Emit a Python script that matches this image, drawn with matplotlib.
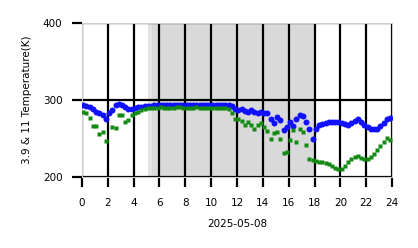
import numpy as np
import matplotlib
matplotlib.use('Agg')
import matplotlib.pyplot as plt

plt.rcParams['font.family'] = 'DejaVu Sans'

# —— 数据（小时, K）——
hours = np.arange(0.1, 24.0, 0.25)   # 15 分钟采样

t39 = [293, 292, 291, 288, 285, 283, 281, 276, 283, 287,
       294, 295, 293, 291, 289, 288, 290, 291, 291, 292,
       292, 292, 293, 293, 293, 293, 293, 293, 293, 293,
       293, 293, 293, 293, 293, 293, 293, 293, 293, 293,
       293, 293, 293, 293, 293, 293, 292, 289, 287, 289,
       286, 285, 287, 284, 283, 285, 283, 283, 275, 270,
       278, 274, 261, 265, 272, 266, 276, 281, 279, 271,
       262, 250, 262, 267, 269, 270, 271, 272, 272, 271,
       270, 269, 268, 270, 273, 275, 271, 268, 265, 263,
       262, 263, 266, 270, 275, 277]

t11 = [284, 283, 277, 266, 266, 256, 258, 247, np.nan, 265,
       264, 281, 280, 272, 274, 280, 283, 285, 287, 289,
       290, 290, 290, 290, 291, 290, 290, 290, 290, 291,
       291, 290, 290, 290, 290, 291, 290, 290, 290, 290,
       290, 290, 290, 290, 290, 289, 283, 276, 275, 273,
       268, 272, 268, 262, 268, 270, 265, 260, 249, 257,
       259, 249, 231, 232, 248, 261, 245, 263, 259, 242,
       224, 222, 221, 220, 219, 218, 217, 215, 212, 210,
       210, 214, 220, 224, 226, 228, 225, 224, 224, 226,
       230, 235, 240, 245, 251, 248]

day_start, day_end = 5.1, 18.0   # 白天阴影

fig = plt.figure(figsize=(4.18, 2.48), dpi=100)
ax = fig.add_axes([0.196, 0.286, 0.742, 0.621])

ax.axvspan(day_start, day_end, color='#e3e3e3', lw=0, zorder=0)
ax.axvspan(day_start + 0.35, day_end, color='#d9d9d9', lw=0, zorder=0)

ax.plot(hours, t39, 'o', color='#1010ff', ms=4.3, mec='none', zorder=3)
ax.plot(hours, t11, 's', color='#138a13', ms=3.3, mec='none', zorder=4)

ax.set_xlim(0, 24)
ax.set_ylim(200, 400)
ax.set_xticks(range(0, 25, 2))
ax.set_yticks([200, 300, 400])
ax.grid(True, color='black', lw=1.6)
ax.tick_params(axis='both', length=7, width=1.6, color='black', labelsize=7.5)
ax.tick_params(axis='y', pad=7)
ax.tick_params(axis='x', pad=8)
for s in ax.spines.values():
    s.set_color('#cccccc')
    s.set_linewidth(0.8)

ax.set_xlabel('2025-05-08', fontsize=7.5, labelpad=8)
ax.set_ylabel('3.9 & 11 Temperature(K)', fontsize=7.5, labelpad=8)

fig.savefig('out.png', dpi=100)
